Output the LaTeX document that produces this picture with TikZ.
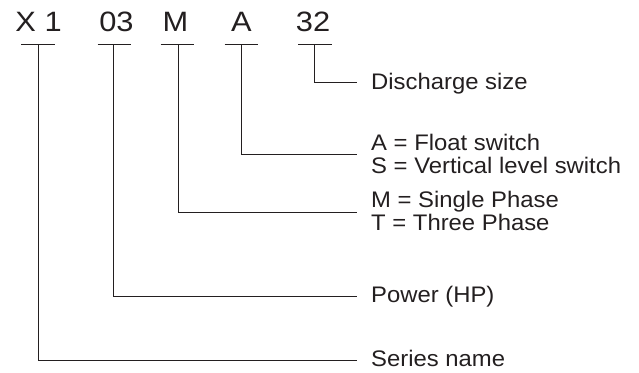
\documentclass[tikz,border=0pt]{standalone}
\usepackage{fontspec}
\setmainfont{Liberation Sans}
\definecolor{ink}{HTML}{231F20}
\newcommand{\sxa}[1]{\scalebox{1.1}[1]{#1}}
\newcommand{\sxb}[1]{\scalebox{1.06}[1]{#1}}
\begin{document}
\begin{tikzpicture}[x=1pt,y=-1pt,
  code/.style={font=\fontsize{28}{32}\selectfont, text=ink, inner sep=0pt, anchor=base},
  lab/.style={font=\fontsize{22.5}{26}\selectfont, text=ink, inner sep=0pt, anchor=base west},
  ln/.style={draw=ink, line width=0.9pt}]
\useasboundingbox (0,0) rectangle (639,372);
% code characters
\node[code] (t1) at (38.6,31.7) {\sxa{X 1}};
\node[code] (t2) at (116.5,31.7) {\sxa{03}};
\node[code] (t3) at (175.5,31.7) {\sxa{M}};
\node[code] (t4) at (241.5,31.7) {\sxa{A}};
\node[code] (t5) at (313,31.7) {\sxa{32}};
% underlines
\draw[ln] (21,44.3) -- (55,44.3);
\draw[ln] (97.5,44.3) -- (130.5,44.3);
\draw[ln] (160.5,44.3) -- (194,44.3);
\draw[ln] (224.5,44.3) -- (257.5,44.3);
\draw[ln] (298,44.3) -- (331.5,44.3);
% connector start points
\coordinate (u1) at (38.6,44.3);
\coordinate (u2) at (113.8,44.3);
\coordinate (u3) at (178,44.3);
\coordinate (u4) at (241.9,44.3);
\coordinate (u5) at (314,44.3);
% connector end points
\coordinate (e5) at (357,82.7);
\coordinate (e4) at (357,154.3);
\coordinate (e3) at (357,212);
\coordinate (e2) at (357,296);
\coordinate (e1) at (357,360);
% labels
\node[lab] (l5) at (371,89.6) {\sxb{Discharge size}};
\node[lab] (l4a) at (371,150) {\sxb{A = Float switch}};
\node[lab] (l4b) at (371,173.3) {\sxb{S = Vertical level switch}};
\node[lab] (l3a) at (371,207.5) {\sxb{M = Single Phase}};
\node[lab] (l3b) at (371,230.8) {\sxb{T = Three Phase}};
\node[lab] (l2) at (371,302.8) {\sxb{Power (HP)}};
\node[lab] (l1) at (371,366) {\sxb{Series name}};
% connectors
\draw[ln] (u5) |- (e5);
\draw[ln] (u4) |- (e4);
\draw[ln] (u3) |- (e3);
\draw[ln] (u2) |- (e2);
\draw[ln] (u1) |- (e1);
\end{tikzpicture}
\end{document}
